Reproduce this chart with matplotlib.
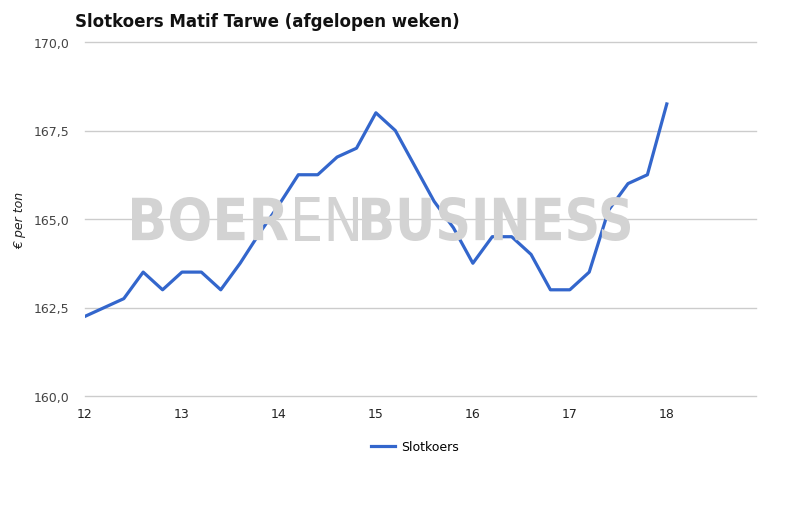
import matplotlib.pyplot as plt
from matplotlib.lines import Line2D
from matplotlib.textpath import TextPath
from matplotlib.patches import PathPatch
from matplotlib.font_manager import FontProperties
from matplotlib.transforms import Affine2D, IdentityTransform

# week numbers (5 quotes per week) and closing prices in euro per ton
weeks = [12.0, 12.4, 12.6, 12.8, 13.0, 13.2, 13.4, 13.6, 13.8, 14.0,
         14.2, 14.4, 14.6, 14.8, 15.0, 15.2, 15.4, 15.6, 15.8, 16.0,
         16.2, 16.4, 16.6, 16.8, 17.0, 17.2, 17.4, 17.6, 17.8, 18.0]
slotkoers = [162.25, 162.75, 163.5, 163.0, 163.5, 163.5, 163.0, 163.75, 164.6, 165.4,
             166.25, 166.25, 166.75, 167.0, 168.0, 167.5, 166.5, 165.5, 164.75, 163.75,
             164.5, 164.5, 164.0, 163.0, 163.0, 163.5, 165.25, 166.0, 166.25, 168.25]

x_ticks = [12, 13, 14, 15, 16, 17, 18]
y_ticks = [160.0, 162.5, 165.0, 167.5, 170.0]

W, H = 804, 506
fig = plt.figure(figsize=(W / 100, H / 100), dpi=100)
ax = fig.add_axes([85 / W, 1 - 397 / H, (756 - 85) / W, (397 - 43) / H])

ax.set_xlim(12, 18.92)
ax.set_ylim(160, 170)

for y in y_ticks:
    ax.axhline(y, color="#cccccc", lw=1, zorder=1, clip_on=False)


# watermark, each piece stretched into its box (pixels from top-left)
def watermark(txt, weight, x0, x1, y0, y1):
    tp = TextPath((0, 0), txt, size=50, prop=FontProperties(family="DejaVu Sans", weight=weight))
    ext = tp.get_extents()
    sx = (x1 - x0) / ext.width
    sy = (y1 - y0) / ext.height
    tr = Affine2D().translate(-ext.x0, -ext.y0).scale(sx, sy).translate(x0, H - y1)
    fig.patches.append(PathPatch(tr.transform_path(tp), transform=IdentityTransform(),
                                 facecolor="#d3d3d3", edgecolor="none", zorder=2, figure=fig))


watermark("BOER", "bold", 132, 288, 198, 242)
watermark("EN", "normal", 295, 358, 198, 242)
watermark("BUSINESS", "bold", 362, 630, 198, 242)

ax.patch.set_alpha(0)
ax.plot(weeks, slotkoers, color="#3366cc", lw=2.3, zorder=3)

for s in ax.spines.values():
    s.set_visible(False)

ax.set_xticks(x_ticks)
ax.set_xticklabels([str(t) for t in x_ticks])
ax.set_yticks(y_ticks)
ax.set_yticklabels([f"{t:.1f}".replace(".", ",") for t in y_ticks])
ax.tick_params(axis="both", length=0, labelsize=9)
ax.tick_params(axis="x", pad=8, labelcolor="#222222")
ax.tick_params(axis="y", pad=11, labelcolor="#444444")

fig.text(20 / W, 1 - 220 / H, "€ per ton", rotation=90, fontsize=9, fontstyle="italic",
         color="#222222", ha="center", va="center")

fig.text(75 / W, 1 - 22 / H, "Slotkoers Matif Tarwe (afgelopen weken)",
         fontsize=12, fontweight="bold", color="#111111", va="center", ha="left")

handle = Line2D([], [], color="#3366cc", lw=2.3)
fig.legend([handle], ["Slotkoers"], loc="center", bbox_to_anchor=(415 / W, 1 - 448 / H),
           frameon=False, fontsize=9, handlelength=1.9, handletextpad=0.5)

fig.savefig("out.png", dpi=100)
